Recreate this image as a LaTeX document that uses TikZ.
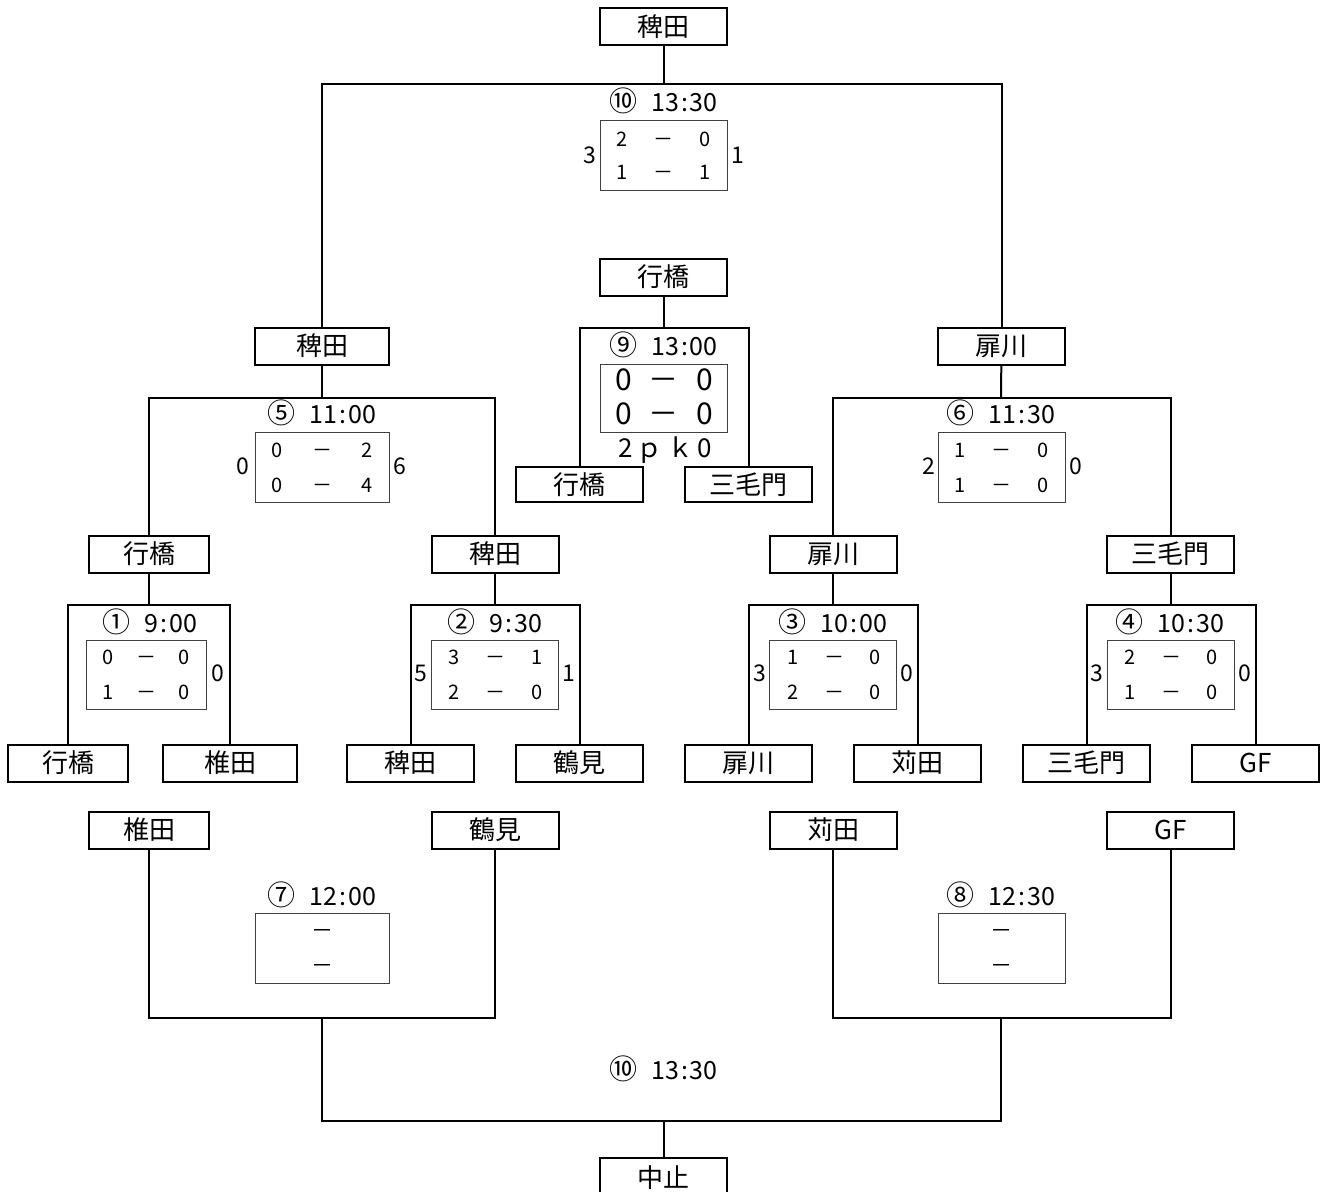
\documentclass[tikz,border=0pt]{standalone}
\usepackage{fontspec}
\setmainfont{Noto Sans CJK JP}
\usepackage{tikz}

\begin{document}
\begin{tikzpicture}[x=0.5pt,y=-0.5pt,
  team/.style={draw,line width=1pt,inner sep=0pt,minimum width=63.5pt,minimum height=18.5pt,font=\fontsize{13}{13}\selectfont},
  scorebox/.style={draw=black!75,line width=0.5pt,inner sep=0pt,minimum width=63.5pt,minimum height=35pt},
  when/.style={inner sep=0pt,font=\fontsize{12.5}{12.5}\selectfont},
  goals/.style={inner sep=0pt,font=\fontsize{10}{10}\selectfont},
  total/.style={inner sep=0pt,font=\fontsize{11.5}{11.5}\selectfont},
  bracket/.style={line width=1pt}]
  \useasboundingbox (0,0) rectangle (1323,1191);
  \clip (0,0) rectangle (1323,1191);

  % final
  \node[team] (champ) at (663.5,26.5) {稗田};
  \coordinate (j10) at (663.5,84);
  \node[when] (t10) at (663.5,101) {{\fontsize{14}{14}\selectfont ⑩}\hspace{7pt}13\kern1pt:\kern1pt30};
  \node[scorebox] (sc10) at (663.5,155) {};
  \node[goals] (g10a) at (663.5,139) {\makebox[47.5pt][s]{2\hfill－\hfill0}};
  \node[goals] (g10b) at (663.5,172) {\makebox[47.5pt][s]{1\hfill－\hfill1}};
  \node[total] (l10) at (590,155) {3};
  \node[total] (r10) at (738,155) {1};

  % semifinal winners
  \node[team,minimum width=67pt] (s5) at (322,346) {稗田};
  \node[team] (s6) at (1001.5,346) {扉川};

  % match 5
  \coordinate (j5) at (322,398);
  \node[when] (t5) at (322,413) {{\fontsize{14}{14}\selectfont ⑤}\hspace{7pt}11\kern1pt:\kern1pt00};
  \node[scorebox,minimum width=67pt] (sc5) at (322,467) {};
  \node[goals] (g5a) at (322,450) {\makebox[51pt][s]{0\hfill－\hfill2}};
  \node[goals] (g5b) at (322,485) {\makebox[51pt][s]{0\hfill－\hfill4}};
  \node[total] (l5) at (243,466) {0};
  \node[total] (r5) at (400,466) {6};

  % match 6
  \coordinate (j6) at (1001,398);
  \node[when] (t6) at (1001,413) {{\fontsize{14}{14}\selectfont ⑥}\hspace{7pt}11\kern1pt:\kern1pt30};
  \node[scorebox] (sc6) at (1001.5,467) {};
  \node[goals] (g6a) at (1001.5,450) {\makebox[47pt][s]{1\hfill－\hfill0}};
  \node[goals] (g6b) at (1001.5,485) {\makebox[47pt][s]{1\hfill－\hfill0}};
  \node[total] (l6) at (929,466) {2};
  \node[total] (r6) at (1076,466) {0};

  % quarterfinal winners
  \node[team,minimum width=60pt] (q1) at (149,554) {行橋};
  \node[team] (q2) at (495,554) {稗田};
  \node[team] (q3) at (833,554) {扉川};
  \node[team] (q4) at (1170.5,554) {三毛門};

  % match 9
  \node[team] (third) at (663.5,277) {行橋};
  \coordinate (j9) at (663.5,328);
  \node[when] (t9) at (663.5,345) {{\fontsize{14}{14}\selectfont ⑨}\hspace{7pt}13\kern1pt:\kern1pt00};
  \node[scorebox,minimum height=34pt] (sc9) at (663.5,398) {};
  \node[goals,font=\fontsize{15}{15}\selectfont] (g9a) at (664,380) {\makebox[49pt][s]{0\hfill－\hfill0}};
  \node[goals,font=\fontsize{15}{15}\selectfont] (g9b) at (664,414) {\makebox[49pt][s]{0\hfill－\hfill0}};
  \node[goals,font=\fontsize{13}{13}\selectfont] (pk9) at (665,450) {\makebox[47pt][s]{2\hfill ｐ\hfill ｋ\hfill 0}};
  \node[team,minimum height=17.5pt] (pa) at (579.5,484.5) {行橋};
  \node[team,minimum height=17.5pt] (pb) at (748.5,484.5) {三毛門};

  % first round
  \node[team,minimum width=60pt] (a1) at (68,763) {行橋};
  \node[team,minimum width=67pt] (b1) at (230,763) {椎田};
  \node[team] (a2) at (410.5,763) {稗田};
  \node[team] (b2) at (579.5,763) {鶴見};
  \node[team] (a3) at (748.5,763) {扉川};
  \node[team] (b3) at (917.5,763) {苅田};
  \node[team] (a4) at (1086.5,763) {三毛門};
  \node[team] (b4) at (1255.5,763) {GF};

  \coordinate (j1) at (149,605);
  \coordinate (j2) at (495,605);
  \coordinate (j3) at (833,605);
  \coordinate (j4) at (1170.5,605);

  \node[when] (t1) at (150,622) {{\fontsize{14}{14}\selectfont ①}\hspace{7pt}9\kern1pt:\kern1pt00};
  \node[when] (t2) at (495,622) {{\fontsize{14}{14}\selectfont ②}\hspace{7pt}9\kern1pt:\kern1pt30};
  \node[when] (t3) at (833,622) {{\fontsize{14}{14}\selectfont ③}\hspace{7pt}10\kern1pt:\kern1pt00};
  \node[when] (t4) at (1170,622) {{\fontsize{14}{14}\selectfont ④}\hspace{7pt}10\kern1pt:\kern1pt30};

  \node[scorebox,minimum width=60pt,minimum height=34.5pt] (sc1) at (146,674.5) {};
  \node[goals] (g1a) at (146,657) {\makebox[44pt][s]{0\hfill－\hfill0}};
  \node[goals] (g1b) at (146,692) {\makebox[44pt][s]{1\hfill－\hfill0}};
  \node[total] (r1) at (218,673) {0};

  \node[scorebox,minimum height=34.5pt] (sc2) at (495,674.5) {};
  \node[goals] (g2a) at (495.5,657) {\makebox[47.5pt][s]{3\hfill－\hfill1}};
  \node[goals] (g2b) at (495.5,692) {\makebox[47.5pt][s]{2\hfill－\hfill0}};
  \node[total] (l2) at (421,673) {5};
  \node[total] (r2) at (569,673) {1};

  \node[scorebox,minimum height=34.5pt] (sc3) at (833,674.5) {};
  \node[goals] (g3a) at (834,657) {\makebox[47pt][s]{1\hfill－\hfill0}};
  \node[goals] (g3b) at (834,692) {\makebox[47pt][s]{2\hfill－\hfill0}};
  \node[total] (l3) at (760,673) {3};
  \node[total] (r3) at (907,673) {0};

  \node[scorebox,minimum height=34.5pt] (sc4) at (1171,674.5) {};
  \node[goals] (g4a) at (1171,657) {\makebox[47pt][s]{2\hfill－\hfill0}};
  \node[goals] (g4b) at (1171,692) {\makebox[47pt][s]{1\hfill－\hfill0}};
  \node[total] (l4) at (1097,673) {3};
  \node[total] (r4) at (1245,673) {0};

  % consolation bracket
  \node[team,minimum width=60pt] (c1) at (149,830) {椎田};
  \node[team] (c2) at (495,830) {鶴見};
  \node[team] (c3) at (833,830) {苅田};
  \node[team] (c4) at (1170.5,830) {GF};
  \coordinate (j7) at (322,1018);
  \coordinate (j8) at (1001,1018);
  \node[when] (t7) at (322,895) {{\fontsize{14}{14}\selectfont ⑦}\hspace{7pt}12\kern1pt:\kern1pt00};
  \node[when] (t8) at (1001,895) {{\fontsize{14}{14}\selectfont ⑧}\hspace{7pt}12\kern1pt:\kern1pt30};
  \node[scorebox,minimum width=67pt] (sc7) at (322,948) {};
  \node[goals,font=\fontsize{11}{11}\selectfont] (g7a) at (322,934) {－};
  \node[goals,font=\fontsize{11}{11}\selectfont] (g7b) at (322,969) {－};
  \node[scorebox] (sc8) at (1001.5,948) {};
  \node[goals,font=\fontsize{11}{11}\selectfont] (g8a) at (1001.5,934) {－};
  \node[goals,font=\fontsize{11}{11}\selectfont] (g8b) at (1001.5,969) {－};
  \coordinate (j10b) at (663.5,1121);
  \node[when] (t10b) at (663.5,1069) {{\fontsize{14}{14}\selectfont ⑩}\hspace{7pt}13\kern1pt:\kern1pt30};
  \node[team,minimum height=20pt] (stop) at (663.5,1178) {中止};

  % brackets
  \draw[bracket] (champ) -- (j10);
  \draw[bracket] (s5) |- (j10) -| (s6);
  \draw[bracket] (s5) -- (j5);
  \draw[bracket] (q1) |- (j5) -| (q2);
  \draw[bracket] (s6) -- (j6);
  \draw[bracket] (q3) |- (j6) -| (q4);
  \draw[bracket] (third) -- (j9);
  \draw[bracket] (pa) |- (j9) -| (pb);
  \draw[bracket] (q1) -- (j1);
  \draw[bracket] (a1) |- (j1) -| (b1);
  \draw[bracket] (q2) -- (j2);
  \draw[bracket] (a2) |- (j2) -| (b2);
  \draw[bracket] (q3) -- (j3);
  \draw[bracket] (a3) |- (j3) -| (b3);
  \draw[bracket] (q4) -- (j4);
  \draw[bracket] (a4) |- (j4) -| (b4);
  \draw[bracket] (c1) |- (j7) -| (c2);
  \draw[bracket] (c3) |- (j8) -| (c4);
  \draw[bracket] (j7) |- (j10b) -| (j8);
  \draw[bracket] (j10b) -- (stop);
\end{tikzpicture}
\end{document}
